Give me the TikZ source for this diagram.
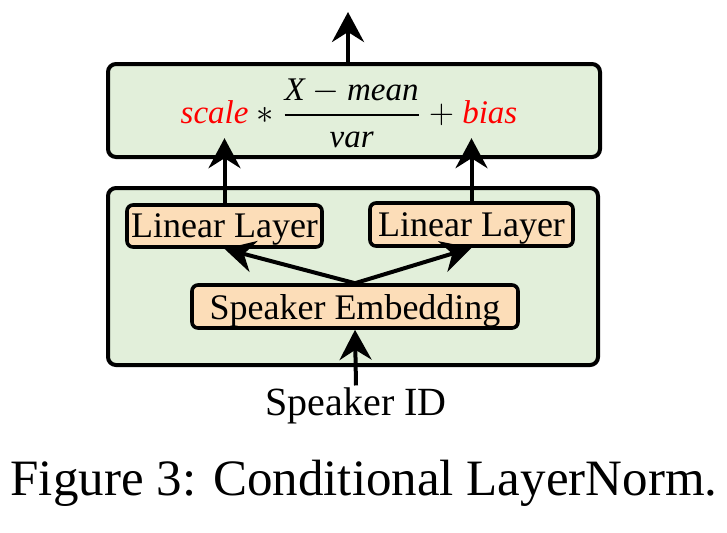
\documentclass[tikz,border=0pt]{standalone}
\usepackage{fontspec}
\setmainfont{Liberation Serif}
\usepackage{amsmath}
\usepackage{xcolor}
\usetikzlibrary{arrows.meta,positioning}
\definecolor{boxgreen}{RGB}{226,239,218}
\definecolor{boxpeach}{RGB}{252,221,184}

\begin{document}
\begin{tikzpicture}[x=0.5pt,y=-0.5pt,
  outerbox/.style={draw,line width=2pt,rounded corners=4pt,fill=boxgreen},
  layerbox/.style={draw,line width=1.8pt,rounded corners=3pt,fill=boxpeach,inner sep=0pt,
    text depth=0pt,font=\fontsize{18}{20}\selectfont},
  flow/.style={-{Stealth[length=15pt,width=16pt,inset=5pt]},line width=2pt}]
\useasboundingbox (0,0) rectangle (727,532);

% normalisation block
\node[outerbox,minimum width=246pt,minimum height=46.5pt] (norm) at (354,110.5) {};
\node[font=\fontsize{16.5}{18}\selectfont] (formula) at (349,113)
  {{\color{red}\textit{scale}} $*$ $\dfrac{\textit{X} - \textit{mean}}{\textit{var}}$ $+$ {\color{red}\textit{bias}}};
\coordinate (out) at (348,12);
\draw[flow] (out |- norm.north) -- (out);

% conditioning block
\node[outerbox,minimum width=245pt,minimum height=88.5pt] (cond) at (353,276.5) {};
\node[layerbox,minimum width=97.5pt,minimum height=21pt] (linL) at (224.5,226) {Linear Layer};
\node[layerbox,minimum width=101.5pt,minimum height=21.5pt] (linR) at (471.5,224.5) {Linear Layer};
\node[layerbox,minimum width=163pt,minimum height=21.5pt] (emb) at (355,306.5) {Speaker Embedding};

\draw[flow] (linL.north) -- ++(0,-65);
\draw[flow] (linR.north) -- ++(0,-63);
\draw[flow] (emb.north) -- (linL.south);
\draw[flow] (emb.north) -- (linR.south);

% input
\node[font=\fontsize{20}{22}\selectfont,inner sep=1pt] (spk) at (356,406) {Speaker ID};
\draw[flow] (spk.north) -- (emb.south);

\node[font=\fontsize{25.5}{28}\selectfont] (caption) at (364,483) {Figure 3: Conditional LayerNorm.};
\end{tikzpicture}
\end{document}
